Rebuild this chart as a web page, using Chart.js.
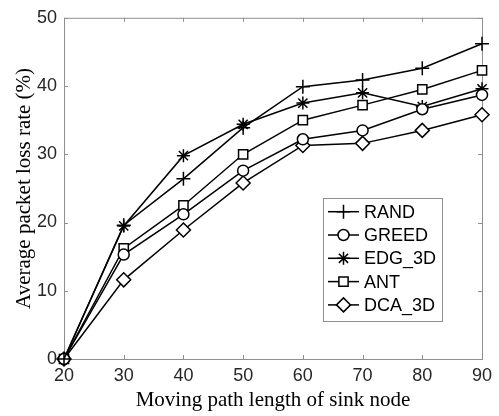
<!DOCTYPE html>
<html>
<head>
<meta charset="utf-8">
<script src="https://cdn.jsdelivr.net/npm/chart.js@4"></script>
<style>
  html, body { margin: 0; padding: 0; background: #fff; }
  #wrap { width: 499px; height: 416px; }
</style>
</head>
<body>
<div id="wrap"><canvas id="loss-chart" width="499" height="416"></canvas></div>
<script>
// path length of the sink node
let pathLength = [20, 30, 40, 50, 60, 70, 80, 90];

let randLoss = [0, 19.6, 26.4, 33.9, 39.9, 40.9, 42.6, 46.2];
let greedLoss = [0, 15.3, 21.2, 27.6, 32.2, 33.5, 36.6, 38.7];
let edgLoss = [0, 19.5, 29.8, 34.4, 37.5, 39.0, 37.0, 39.6];
let antLoss = [0, 16.2, 22.5, 30.0, 35.0, 37.2, 39.5, 42.3];
let dcaLoss = [0, 11.6, 18.9, 25.8, 31.3, 31.6, 33.5, 35.8];

let xTicks = [20, 30, 40, 50, 60, 70, 80, 90];
let yTicks = [0, 10, 20, 30, 40, 50];

let seriesNames = ["RAND", "GREED", "EDG_3D", "ANT", "DCA_3D"];
let seriesValues = [randLoss, greedLoss, edgLoss, antLoss, dcaLoss];
let seriesMarkers = ["cross", "circle", "star", "rect", "rectRot"];
let markerSizes = [7, 5.5, 6.5, 6.5, 7];

let frameColor = "#8f8f8f";
let textColor = "#262626";

function toPoints(values) {
  return values.map((v, i) => ({ x: pathLength[i], y: v }));
}

let datasets = seriesNames.map((name, i) => ({
  label: name,
  data: toPoints(seriesValues[i]),
  borderColor: "#000",
  borderWidth: 1.5,
  pointStyle: seriesMarkers[i],
  pointRadius: markerSizes[i],
  pointBorderWidth: 1.5,
  pointBorderColor: "#000",
  pointBackgroundColor: "#fff",
  tension: 0,
  fill: false,
  clip: false,
}));

// box around the plot with inward ticks on all four sides
let boxTicks = {
  id: "boxTicks",
  beforeDatasetsDraw(chart) {
    let ctx = chart.ctx;
    let area = chart.chartArea;
    let xs = chart.scales.x;
    let ys = chart.scales.y;
    let len = 4;
    ctx.save();
    ctx.strokeStyle = frameColor;
    ctx.lineWidth = 1;
    ctx.strokeRect(area.left + 0.5, area.top + 0.5, area.right - area.left, area.bottom - area.top);
    ctx.beginPath();
    xTicks.forEach((t) => {
      let px = Math.round(xs.getPixelForValue(t)) + 0.5;
      ctx.moveTo(px, area.bottom);
      ctx.lineTo(px, area.bottom - len);
      ctx.moveTo(px, area.top);
      ctx.lineTo(px, area.top + len);
    });
    yTicks.forEach((t) => {
      let py = Math.round(ys.getPixelForValue(t)) + 0.5;
      ctx.moveTo(area.left, py);
      ctx.lineTo(area.left + len, py);
      ctx.moveTo(area.right, py);
      ctx.lineTo(area.right - len, py);
    });
    ctx.stroke();
    ctx.restore();
  },
};

// matlab style legend inside the plot
let boxLegend = {
  id: "boxLegend",
  afterDatasetsDraw(chart) {
    let ctx = chart.ctx;
    let left = 323, top = 198, width = 119, height = 123;
    let rowH = 23.3;
    ctx.save();
    ctx.fillStyle = "#fff";
    ctx.fillRect(left, top, width, height);
    ctx.strokeStyle = frameColor;
    ctx.lineWidth = 1;
    ctx.strokeRect(left + 0.5, top + 0.5, width, height);
    ctx.font = "18px 'Liberation Sans', Arial, sans-serif";
    ctx.textBaseline = "middle";
    ctx.fillStyle = "#000";
    chart.data.datasets.forEach((ds, i) => {
      let cy = top + 13.7 + i * rowH;
      ctx.strokeStyle = "#000";
      ctx.lineWidth = 1.5;
      ctx.beginPath();
      ctx.moveTo(328, cy);
      ctx.lineTo(359, cy);
      ctx.stroke();
      ctx.fillStyle = "#fff";
      Chart.helpers.drawPoint(ctx, { pointStyle: ds.pointStyle, radius: ds.pointRadius, borderWidth: 1.5 }, 343.5, cy);
      ctx.fillStyle = "#000";
      ctx.fillText(ds.label, 364, cy + 1);
    });
    ctx.restore();
  },
};

new Chart("loss-chart", {
  type: "line",
  data: { datasets: datasets },
  options: {
    responsive: false,
    animation: false,
    layout: { padding: { top: 14, right: 17, left: 0, bottom: 0 } },
    plugins: {
      legend: { display: false },
      tooltip: { enabled: false },
    },
    scales: {
      x: {
        type: "linear",
        min: 20,
        max: 90,
        afterFit: (scale) => { scale.height = 57; },
        afterBuildTicks: (scale) => { scale.ticks = xTicks.map((v) => ({ value: v })); },
        border: { display: false },
        grid: { display: false, drawTicks: false },
        ticks: {
          color: textColor,
          padding: 6,
          font: { family: "'Liberation Sans', Arial, sans-serif", size: 18 },
          maxRotation: 0,
        },
        title: {
          display: true,
          text: "Moving path length of sink node",
          color: "#000",
          padding: { top: 1, bottom: 3 },
          font: { family: "'Liberation Serif', 'Times New Roman', serif", size: 21 },
        },
      },
      y: {
        type: "linear",
        min: 0,
        max: 50,
        afterFit: (scale) => { scale.width = 64; },
        afterBuildTicks: (scale) => { scale.ticks = yTicks.map((v) => ({ value: v })); },
        border: { display: false },
        grid: { display: false, drawTicks: false },
        ticks: {
          color: textColor,
          padding: 7,
          font: { family: "'Liberation Sans', Arial, sans-serif", size: 18 },
        },
        title: {
          display: true,
          text: "Average packet loss rate (%)",
          color: "#000",
          padding: { top: 12, bottom: 0 },
          font: { family: "'Liberation Serif', 'Times New Roman', serif", size: 21 },
        },
      },
    },
  },
  plugins: [boxTicks, boxLegend],
});
</script>
</body>
</html>
